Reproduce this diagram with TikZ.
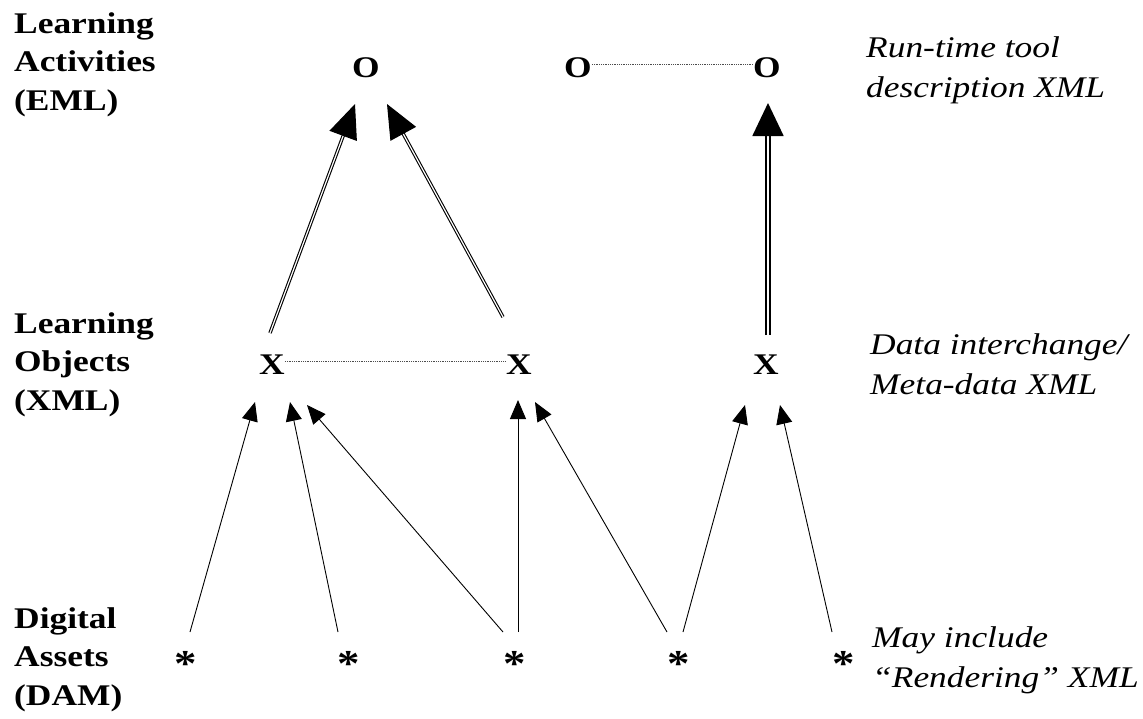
\documentclass[tikz,border=0pt]{standalone}
\usepackage{fontspec}
\setmainfont{Liberation Serif}[FakeStretch=1.18]
\usepackage{tikz}
\usetikzlibrary{arrows.meta, positioning}
\tikzstyle{tier}=[anchor=north west, inner sep=0pt, align=left, font=\fontsize{30}{38.5}\selectfont\bfseries]
\tikzstyle{note}=[anchor=north west, inner sep=0pt, align=left, font=\fontsize{30}{40}\selectfont\itshape]
\tikzstyle{sym}=[inner sep=0pt, font=\fontsize{30}{36}\selectfont\bfseries]
\tikzstyle{star}=[inner sep=0pt, font=\fontsize{38}{40}\selectfont\bfseries]
\tikzstyle{link}=[line width=0.9pt, -{Triangle[length=19pt, width=16pt]}]
\tikzstyle{twin}=[double, line width=1.1pt, double distance=1.2pt, -{Triangle[length=34pt, width=29pt]}]
\tikzstyle{heavy twin}=[double, line width=1.8pt, double distance=2pt, -{Triangle[length=33pt, width=31pt]}]
\tikzstyle{pair}=[densely dotted, line width=0.8pt, black!70]

\begin{document}
\begin{tikzpicture}[x=1pt, y=-1pt]
		\useasboundingbox (0,0) rectangle (1143,718);
		% row labels
		\node[tier] (la) at (14,12) {Learning\\Activities\\(EML)};
		\node[tier] (lo) at (14,312) {Learning\\Objects\\(XML)};
		\node[tier] (ld) at (14,607) {Digital\\Assets\\(DAM)};
		\node[note] (na) at (866,36) {Run-time tool\\description XML};
		\node[note] (no) at (870,333) {Data interchange/\\Meta-data XML};
		\node[note] (nd) at (872,626) {May include\\“Rendering” XML};
		% activities, objects, assets
		\foreach \ox [count=\oi] in {366,578,767}
			\node[sym] (o\oi) at (\ox,68) {O};
		\foreach \xx [count=\xi] in {272,519,766}
			\node[sym] (x\xi) at (\xx,365) {X};
		\foreach \sx [count=\si] in {186,349,515,679,844}
			\node[star] (s\si) at (\sx,664) {*};
		% links
		\draw[pair] ([yshift=4pt]o2.east) -- ([yshift=4pt]o3.west);
		\draw[pair] ([yshift=4pt]x1.east) -- ([yshift=4pt]x2.west);
		\draw[twin] ([shift={(-2,-32)}]x1.center) -- ([shift={(-11,36)}]o1.center);
		\draw[twin] ([shift={(-16,-48)}]x2.center) -- ([shift={(21,36)}]o1.center);
		\draw[heavy twin] ([shift={(2,-30)}]x3.center) -- ([shift={(1,35)}]o3.center);
		\foreach \s/\tx/\x/\hx/\hy in {1/4/1/-17/37, 2/-11/1/18/37, 3/-12/1/35/40, 3/3/2/-1/35, 4/-12/2/16/37, 4/4/3/-21/40, 5/-12/3/14/40}
			\draw[link] ([shift={(\tx,-32)}]s\s.center) -- ([shift={(\hx,\hy)}]x\x.center);
\end{tikzpicture}
\end{document}
